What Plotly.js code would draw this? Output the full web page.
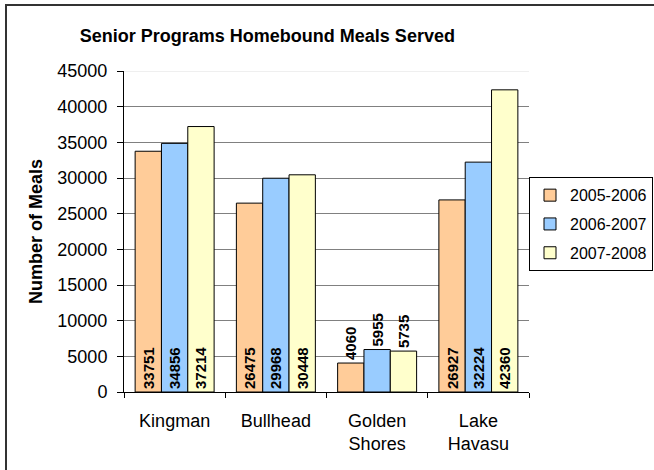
<!DOCTYPE html>
<html>
<head>
<meta charset="utf-8">
<script src="https://cdn.plot.ly/plotly-3.0.1.min.js"></script>
<style>
  body { margin: 0; padding: 0; background: #fff; }
  #wrap { position: relative; width: 654px; height: 470px; overflow: hidden; }
  #chart { position: absolute; left: 0; top: 0; width: 654px; height: 470px; }
  #frame { position: absolute; left: 5px; top: 4px; width: 700px; height: 464px;
           border-left: 2px solid #333; border-top: 2px solid #333; border-bottom: 1px solid #ddd;
           pointer-events: none; }
</style>
</head>
<body>
<div id="wrap">
  <div id="chart"></div>
  <div id="frame"></div>
</div>
<script>
const categories = ["Kingman", "Bullhead", "Golden Shores", "Lake Havasu"];
const tickLabels = ["Kingman", "Bullhead", "Golden<br>Shores", "Lake<br>Havasu"];
const seriesNames = ["2005-2006", "2006-2007", "2007-2008"];
const values2005 = [33751, 26475, 4060, 26927];
const values2006 = [34856, 29968, 5955, 32224];
const values2007 = [37214, 30448, 5735, 42360];
const yTicks = [0, 5000, 10000, 15000, 20000, 25000, 30000, 35000, 40000, 45000];

const colors = ["#FFCC99", "#99CCFF", "#FFFFCC"];
const allValues = [values2005, values2006, values2007];
const font = "Liberation Sans, Arial, sans-serif";

const traces = allValues.map((vals, i) => ({
  type: "bar",
  name: seriesNames[i],
  legendgroup: "g" + i,
  x: categories,
  y: vals,
  text: vals.map(v => String(v)),
  textposition: vals.map(v => (v < 10000 ? "outside" : "inside")),
  insidetextanchor: "start",
  textangle: -90,
  constraintext: "none",
  cliponaxis: false,
  textfont: { family: font, size: 15, color: "#000", weight: "bold" },
  marker: { color: colors[i], line: { color: "#000", width: 1 } },
  hoverinfo: "x+y+name"
}));

const layout = {
  width: 654,
  height: 470,
  paper_bgcolor: "#fff",
  plot_bgcolor: "#fff",
  margin: { l: 124, r: 125, t: 71, b: 78, autoexpand: false },
  font: { family: font, color: "#000", size: 17 },
  barmode: "group",
  bargap: 0.22,
  bargroupgap: 0,
  showlegend: true,
  title: {
    text: "<b>Senior Programs Homebound Meals Served</b>",
    font: { family: font, size: 18, color: "#000" },
    xref: "paper", x: 0.354, xanchor: "center",
    yref: "container", y: 0.923, yanchor: "middle"
  },
  xaxis: {
    type: "category",
    tickmode: "array",
    tickvals: categories,
    ticktext: tickLabels,
    tickson: "boundaries",
    ticks: "outside",
    ticklen: 5,
    tickcolor: "#000",
    showline: true,
    linecolor: "#000",
    linewidth: 1,
    showgrid: false,
    ticklabelstandoff: 12,
    tickfont: { family: font, size: 18, color: "#000" }
  },
  yaxis: {
    range: [0, 45000],
    tickmode: "array",
    tickvals: yTicks,
    ticktext: yTicks.map(String),
    ticks: "outside",
    ticklen: 6,
    tickcolor: "#000",
    showline: true,
    linecolor: "#000",
    linewidth: 1,
    showgrid: true,
    gridcolor: "#808080",
    gridwidth: 1,
    zeroline: false,
    ticklabelstandoff: 6,
    tickfont: { family: font, size: 18, color: "#000" },
    title: {
      text: "<b>Number of Meals</b>",
      font: { family: font, size: 18, color: "#000" },
      standoff: 10
    }
  },
  legend: {
    x: 1.0, xanchor: "left",
    y: 0.669, yanchor: "top",
    bordercolor: "#000",
    borderwidth: 1,
    bgcolor: "rgba(255,255,255,0)",
    font: { family: font, size: 16, color: "#000" },
    itemwidth: 30,
    tracegroupgap: 5
  },
  shapes: [
    { type: "line", xref: "paper", yref: "y", x0: 0, x1: 1, y0: 45000, y1: 45000,
      line: { color: "#e0e0e0", width: 1 }, layer: "above" }
  ]
};

Plotly.newPlot("chart", traces, layout, { displayModeBar: false, staticPlot: true });
</script>
</body>
</html>
